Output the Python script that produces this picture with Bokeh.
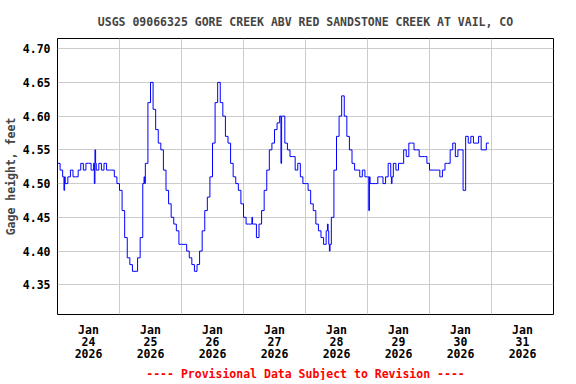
import datetime as dt
from bokeh.plotting import figure
from bokeh.models import Range1d, FixedTicker, DatetimeTickFormatter, PrintfTickFormatter, Title
from bokeh.embed import file_html
from bokeh.resources import INLINE

START = dt.datetime(2026, 1, 24, 0, 0)
EPOCH = dt.datetime(1970, 1, 1)

# hourly gage height (ft)
jan24 = [4.53, 4.52, 4.51, 4.50, 4.51, 4.52, 4.51, 4.51, 4.52, 4.53, 4.52, 4.53,
         4.53, 4.52, 4.53, 4.52, 4.53, 4.52, 4.53, 4.52, 4.52, 4.52, 4.51, 4.50]
jan25 = [4.49, 4.46, 4.42, 4.39, 4.38, 4.37, 4.37, 4.39, 4.42, 4.50, 4.53, 4.62,
         4.65, 4.61, 4.58, 4.56, 4.55, 4.52, 4.49, 4.47, 4.45, 4.44, 4.43, 4.41]
jan26 = [4.41, 4.41, 4.40, 4.39, 4.38, 4.37, 4.38, 4.40, 4.43, 4.46, 4.48, 4.51,
         4.56, 4.62, 4.65, 4.62, 4.60, 4.57, 4.56, 4.53, 4.51, 4.50, 4.49, 4.47]
jan27 = [4.45, 4.44, 4.44, 4.44, 4.44, 4.42, 4.44, 4.46, 4.49, 4.52, 4.55, 4.56,
         4.58, 4.59, 4.60, 4.60, 4.56, 4.55, 4.54, 4.54, 4.52, 4.53, 4.51, 4.50]
jan28 = [4.50, 4.49, 4.47, 4.46, 4.44, 4.43, 4.42, 4.41, 4.43, 4.41, 4.45, 4.52,
         4.57, 4.60, 4.63, 4.60, 4.57, 4.55, 4.53, 4.52, 4.52, 4.51, 4.52, 4.51]
jan29 = [4.51, 4.50, 4.50, 4.50, 4.51, 4.51, 4.50, 4.51, 4.53, 4.51, 4.53, 4.52,
         4.53, 4.53, 4.55, 4.54, 4.56, 4.56, 4.55, 4.55, 4.54, 4.54, 4.54, 4.53]
jan30 = [4.52, 4.52, 4.52, 4.52, 4.51, 4.52, 4.53, 4.53, 4.55, 4.56, 4.54, 4.55,
         4.55, 4.49, 4.57, 4.56, 4.57, 4.56, 4.56, 4.57, 4.55, 4.55, 4.56, 4.56]

# short spikes (hour from start, value)
spike_hours = [2.5, 14.25, 14.5, 33.5, 75.25, 86.5, 104.5, 105.25, 120.5, 129.25, 148.25]
spike_values = [4.49, 4.50, 4.55, 4.51, 4.45, 4.53, 4.44, 4.40, 4.46, 4.50, 4.51]

tick_days = [24, 25, 26, 27, 28, 29, 30, 31]
y_ticks = [4.35, 4.40, 4.45, 4.50, 4.55, 4.60, 4.65, 4.70]

TITLE = "USGS 09066325 GORE CREEK ABV RED SANDSTONE CREEK AT VAIL, CO"
FOOTER = "---- Provisional Data Subject to Revision ----"
YLABEL = "Gage height, feet"

FONT = "DejaVu Sans Mono"
FS = "11.5px"

hourly = jan24 + jan25 + jan26 + jan27 + jan28 + jan29 + jan30
pts = [(float(h), v) for h, v in enumerate(hourly)]
for h, v in zip(spike_hours, spike_values):
    pts.append((h, v))
    pts.append((h + 0.25, hourly[int(h)]))
pts.sort()
xs = [START + dt.timedelta(hours=h) for h, _ in pts]
ys = [v for _, v in pts]


def ms(t):
    return (t - EPOCH).total_seconds() * 1000.0


p = figure(frame_width=496, frame_height=276, x_axis_type="datetime",
           x_range=Range1d(START, START + dt.timedelta(days=8)),
           y_range=Range1d(4.306, 4.715),
           output_backend="svg", toolbar_location=None,
           min_border_left=50, min_border_right=10, min_border_top=38, min_border_bottom=60)

p.title.text = TITLE
p.title.align = "center"
p.title.text_font = FONT
p.title.text_font_size = FS
p.title.text_font_style = "bold"
p.title.standoff = 20

p.step(xs, ys, mode="after", line_color="#0000ff", line_width=1)

p.outline_line_color = "black"
p.outline_line_width = 1
p.background_fill_color = "white"
p.border_fill_color = "white"

noon_ticks = [ms(dt.datetime(2026, 1, d, 12)) for d in tick_days]
mid_ticks = [ms(START + dt.timedelta(days=i)) for i in range(9)]

xa = p.xaxis[0]
xa.ticker = FixedTicker(ticks=noon_ticks)
fmt = "%b\n%d\n%Y"
xa.formatter = DatetimeTickFormatter(microseconds=fmt, milliseconds=fmt, seconds=fmt, minsec=fmt,
                                     minutes=fmt, hourmin=fmt, hours=fmt, days=fmt, months=fmt, years=fmt)
p.xgrid.ticker = FixedTicker(ticks=mid_ticks)

ya = p.yaxis[0]
ya.ticker = FixedTicker(ticks=y_ticks)
ya.formatter = PrintfTickFormatter(format="%.2f")
ya.axis_label = YLABEL
ya.axis_label_text_font = FONT
ya.axis_label_text_font_size = FS
ya.axis_label_text_font_style = "bold"
ya.axis_label_standoff = 2

for ax in (xa, ya):
    ax.axis_line_color = None
    ax.major_tick_line_color = None
    ax.minor_tick_line_color = None
    ax.major_tick_out = 0
    ax.major_tick_in = 0
    ax.major_label_text_font = FONT
    ax.major_label_text_font_size = FS
    ax.major_label_text_font_style = "bold"
    ax.major_label_text_color = "black"
    ax.major_label_standoff = 7
xa.major_label_text_line_height = 0.88
xa.major_label_standoff = 8

for g in (p.xgrid[0], p.ygrid[0]):
    g.grid_line_color = "#cccccc"
    g.grid_line_width = 1

foot = Title(text=FOOTER, align="center", text_font=FONT, text_font_size=FS,
             text_font_style="bold", text_color="#ff0000", standoff=0)
p.add_layout(foot, "below")

open("out.html", "w").write(file_html(p, INLINE))
